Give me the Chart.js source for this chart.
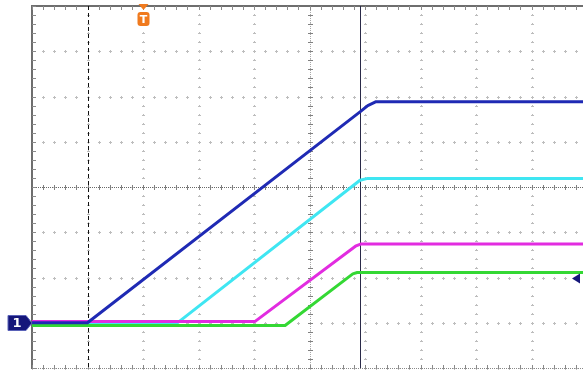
<!DOCTYPE html>
<html>
<head>
<meta charset="utf-8">
<script src="https://cdn.jsdelivr.net/npm/chart.js@4/dist/chart.umd.min.js"></script>
<style>
  html, body { margin: 0; padding: 0; background: #ffffff; overflow: hidden; }
  #wrap { width: 590px; height: 372px; }
</style>
</head>
<body>
<div id="wrap"><canvas id="scope" width="590" height="372"></canvas></div>
<script>
// Time axis in divisions (10 div across), voltage in divisions (8 div tall)
const divX = [-5, -4, -3, -2, -1, 0, 1, 2, 3, 4, 5];
const divY = [-4, -3, -2, -1, 0, 1, 2, 3, 4];

// Channel traces, breakpoints in divisions
const ch1X = [-5, -4.0, 0.91, 1.05, 1.2, 5];
const ch1Y = [-3.0, -3.0, 1.66, 1.8, 1.885, 1.885];

const ch2X = [-5, -2.42, 0.91, 1.05, 5];
const ch2Y = [-3.04, -3.04, 0.15, 0.19, 0.19];

const ch3X = [-5, -0.98, 0.84, 0.92, 5];
const ch3Y = [-2.97, -2.97, -1.30, -1.26, -1.26];

const ch4X = [-5, -0.44, 0.78, 0.86, 5];
const ch4Y = [-3.06, -3.06, -1.92, -1.89, -1.89];

// Markers
const ch1Ground = -3.0;     // channel 1 reference level
const triggerPos = -3.0;    // trigger position marker
const cursorDashed = -4.0;  // dashed cursor
const cursorSolid = 0.91;   // solid cursor
const triggerLevel = -2.0;  // trigger level arrow

const pts = (xs, ys) => xs.map((x, i) => ({ x: x, y: ys[i] }));

const scopeGrid = {
  id: 'scopeGrid',
  beforeDatasetsDraw(chart) {
    const ctx = chart.ctx, xs = chart.scales.x, ys = chart.scales.y, a = chart.chartArea;
    ctx.save();
    // grid lines as dot rows
    ctx.fillStyle = '#bdbdbd';
    divX.forEach(d => {
      const px = Math.round(xs.getPixelForValue(d));
      for (let k = -20; k <= 20; k++) {
        const py = Math.round(ys.getPixelForValue(k / 5));
        ctx.fillRect(px - 1, py, 3, 1);
        ctx.fillRect(px, py - 1, 1, 1);
      }
    });
    divY.forEach(d => {
      const py = Math.round(ys.getPixelForValue(d));
      for (let k = -25; k <= 25; k++) {
        const px = Math.round(xs.getPixelForValue(k / 5));
        ctx.fillRect(px, py - 1, 1, 3);
        ctx.fillRect(px - 1, py, 3, 1);
      }
    });
    // center axes: fine dotted line with minor ticks
    const cx = Math.round(xs.getPixelForValue(0));
    const cy = Math.round(ys.getPixelForValue(0));
    ctx.fillStyle = '#6a6a6a';
    for (let px = a.left; px <= a.right; px += 2) ctx.fillRect(px, cy, 1, 1);
    ctx.fillStyle = '#a8a8a8';
    for (let py = a.top; py <= a.bottom; py += 2) ctx.fillRect(cx, py, 1, 1);
    ctx.fillStyle = '#808080';
    for (let k = -25; k <= 25; k++) {
      const px = Math.round(xs.getPixelForValue(k / 5));
      ctx.fillRect(px, cy - 2, 1, 5);
    }
    for (let k = -20; k <= 20; k++) {
      const py = Math.round(ys.getPixelForValue(k / 5));
      ctx.fillRect(cx - 2, py, 5, 1);
    }
    // border with inward ticks
    ctx.fillStyle = '#6e6e6e';
    ctx.fillRect(a.left - 1, a.top - 1, 2, a.bottom - a.top + 2);
    ctx.fillRect(a.left - 1, a.top - 1, a.right - a.left + 2, 2);
    ctx.fillStyle = '#8a8a8a';
    for (let px = a.left; px <= a.right; px += 2) ctx.fillRect(px, a.bottom, 1, 1);
    for (let k = -20; k <= 20; k++) {
      const py = Math.round(ys.getPixelForValue(k / 5));
      ctx.fillRect(a.left, py, 4, 1);
    }
    for (let k = -25; k <= 25; k++) {
      const px = Math.round(xs.getPixelForValue(k / 5));
      ctx.fillRect(px, a.top, 1, 4);
      ctx.fillRect(px, a.bottom - 3, 1, 4);
    }
    // cursors
    const dx = Math.round(xs.getPixelForValue(cursorDashed)) + 0.5;
    ctx.strokeStyle = '#111111';
    ctx.lineWidth = 1;
    ctx.setLineDash([4, 3]);
    ctx.beginPath(); ctx.moveTo(dx, a.top); ctx.lineTo(dx, a.bottom); ctx.stroke();
    ctx.setLineDash([]);
    const sx = Math.round(xs.getPixelForValue(cursorSolid)) + 0.5;
    ctx.strokeStyle = '#2a2a48';
    ctx.beginPath(); ctx.moveTo(sx, a.top); ctx.lineTo(sx, a.bottom); ctx.stroke();
    ctx.restore();
  },
  afterDatasetsDraw(chart) {
    const ctx = chart.ctx, xs = chart.scales.x, ys = chart.scales.y, a = chart.chartArea;
    ctx.save();
    // channel 1 ground marker
    const gy = Math.round(ys.getPixelForValue(ch1Ground));
    ctx.fillStyle = '#15167a';
    ctx.strokeStyle = '#5a62b8';
    ctx.lineWidth = 1;
    ctx.beginPath();
    ctx.moveTo(a.left - 24, gy - 7.5);
    ctx.lineTo(a.left - 6, gy - 7.5);
    ctx.lineTo(a.left, gy);
    ctx.lineTo(a.left - 6, gy + 7.5);
    ctx.lineTo(a.left - 24, gy + 7.5);
    ctx.closePath();
    ctx.fill(); ctx.stroke();
    ctx.fillStyle = '#ffffff';
    ctx.font = 'bold 13px "DejaVu Sans", Arial, sans-serif';
    ctx.textAlign = 'center';
    ctx.textBaseline = 'middle';
    ctx.fillText('1', a.left - 15, gy + 1);
    // trigger position marker
    const tx = Math.round(xs.getPixelForValue(triggerPos)) + 0.5;
    ctx.fillStyle = '#f07a1e';
    ctx.beginPath();
    ctx.moveTo(tx - 5, a.top - 2);
    ctx.lineTo(tx + 5, a.top - 2);
    ctx.lineTo(tx, a.top + 4);
    ctx.closePath();
    ctx.fill();
    const bx = tx - 6, by = a.top + 6, bw = 12, bh = 14, r = 3;
    ctx.beginPath();
    ctx.moveTo(bx + r, by);
    ctx.lineTo(bx + bw - r, by);
    ctx.quadraticCurveTo(bx + bw, by, bx + bw, by + r);
    ctx.lineTo(bx + bw, by + bh - r);
    ctx.quadraticCurveTo(bx + bw, by + bh, bx + bw - r, by + bh);
    ctx.lineTo(bx + r, by + bh);
    ctx.quadraticCurveTo(bx, by + bh, bx, by + bh - r);
    ctx.lineTo(bx, by + r);
    ctx.quadraticCurveTo(bx, by, bx + r, by);
    ctx.closePath();
    ctx.fill();
    ctx.fillStyle = '#ffffff';
    ctx.font = 'bold 11px "DejaVu Sans", Arial, sans-serif';
    ctx.fillText('T', tx, by + bh / 2 + 1);
    // trigger level arrow
    const ly = Math.round(ys.getPixelForValue(triggerLevel)) + 0.5;
    const lx = 572;
    ctx.fillStyle = '#15167a';
    ctx.beginPath();
    ctx.moveTo(lx, ly);
    ctx.lineTo(lx + 8, ly - 5);
    ctx.lineTo(lx + 8, ly + 5);
    ctx.closePath();
    ctx.fill();
    ctx.restore();
  }
};

new Chart(document.getElementById('scope'), {
  type: 'line',
  data: {
    datasets: [
      { label: 'CH1', data: pts(ch1X, ch1Y), borderColor: '#1f2ab4', order: 1 },
      { label: 'CH3', data: pts(ch3X, ch3Y), borderColor: '#e22ce0', order: 2 },
      { label: 'CH4', data: pts(ch4X, ch4Y), borderColor: '#34d834', order: 3 },
      { label: 'CH2', data: pts(ch2X, ch2Y), borderColor: '#3fe6f2', order: 4 }
    ]
  },
  options: {
    responsive: false,
    devicePixelRatio: 1,
    animation: false,
    parsing: true,
    layout: { padding: { left: 32, top: 6, right: 3, bottom: 4 } },
    elements: {
      line: { borderWidth: 3, tension: 0, borderJoinStyle: 'round' },
      point: { radius: 0 }
    },
    plugins: { legend: { display: false }, tooltip: { enabled: false } },
    scales: {
      x: { type: 'linear', min: -5, max: 5, display: false },
      y: { type: 'linear', min: -4, max: 4, display: false }
    }
  },
  plugins: [scopeGrid]
});
</script>
</body>
</html>
